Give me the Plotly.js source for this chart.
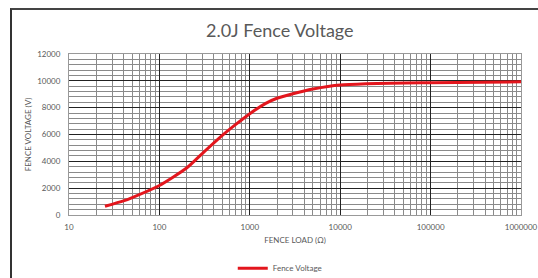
<!DOCTYPE html>
<html><head><meta charset="utf-8">
<script src="https://cdn.plot.ly/plotly-3.0.1.min.js"></script>
<style>html,body{margin:0;padding:0;background:#fff;}#wrap{position:relative;width:538px;height:278px;}#chart{width:538px;height:278px;}#frame{position:absolute;left:10px;top:8px;width:528px;height:270px;border-left:2px solid #333;border-top:2px solid #444;pointer-events:none;}</style>
</head><body>
<div id="wrap"><div id="chart"></div><div id="frame"></div></div>
<script>
const seriesName = "Fence Voltage";
const loadOhms = [25, 40, 50, 100, 200, 300, 500, 700, 1000, 1500, 2000, 3000, 5000, 10000, 100000, 1000000];
const voltage = [650, 1050, 1300, 2200, 3500, 4600, 5950, 6750, 7550, 8320, 8700, 9040, 9390, 9690, 9860, 9930];
const xTickVals = [10, 100, 1000, 10000, 100000, 1000000];
const xTickText = ["10", "100", "1000", "10000", "100000", "1000000"];

const font = "Lato, 'Open Sans', sans-serif";
Plotly.newPlot('chart', [{
  x: loadOhms, y: voltage, name: seriesName, type: 'scatter', mode: 'lines',
  line: {color: '#e3161d', width: 3, shape: 'spline', smoothing: 0.6}
}], {
  width: 538, height: 278,
  margin: {l: 69, r: 17, t: 54, b: 63, autoexpand: false},
  paper_bgcolor: '#fff', plot_bgcolor: '#fff',
  font: {family: font, color: '#595959', size: 8},
  title: {text: '2.0J Fence Voltage', font: {family: font, size: 18, color: '#595959'}, x: 0.52, xanchor: 'center', y: 0.89, yanchor: 'middle'},
  xaxis: {
    type: 'log', range: [1, 6], tickvals: xTickVals, ticktext: xTickText, automargin: false,
    showgrid: true, gridcolor: '#222', gridwidth: 1,
    minor: {showgrid: true, gridcolor: '#8a8a8a', gridwidth: 1, dtick: 'D1'},
    showline: true, linecolor: '#999', mirror: true, zeroline: false,
    tickfont: {size: 8, color: '#595959'}, ticks: '', ticklabelstandoff: 4,
    title: {text: 'FENCE LOAD (Ω)', font: {size: 8, color: '#595959'}, standoff: 6}
  },
  yaxis: {
    range: [0, 12000], dtick: 2000, tickformat: 'd', automargin: false,
    showgrid: true, gridcolor: '#222', gridwidth: 1,
    minor: {showgrid: true, gridcolor: '#8a8a8a', gridwidth: 1, dtick: 400},
    showline: true, linecolor: '#999', mirror: true, zeroline: false,
    tickfont: {size: 8, color: '#595959'}, ticks: '', ticklabelstandoff: 6,
    title: {text: 'FENCE VOLTAGE (V)', font: {size: 8, color: '#595959'}, standoff: 4}
  },
  showlegend: true,
  legend: {orientation: 'h', x: 0.52, xanchor: 'center', xref: 'container', yref: 'container', y: 0.035, yanchor: 'middle', font: {size: 8, color: '#595959'}}
}, {staticPlot: true});
</script>
</body></html>
